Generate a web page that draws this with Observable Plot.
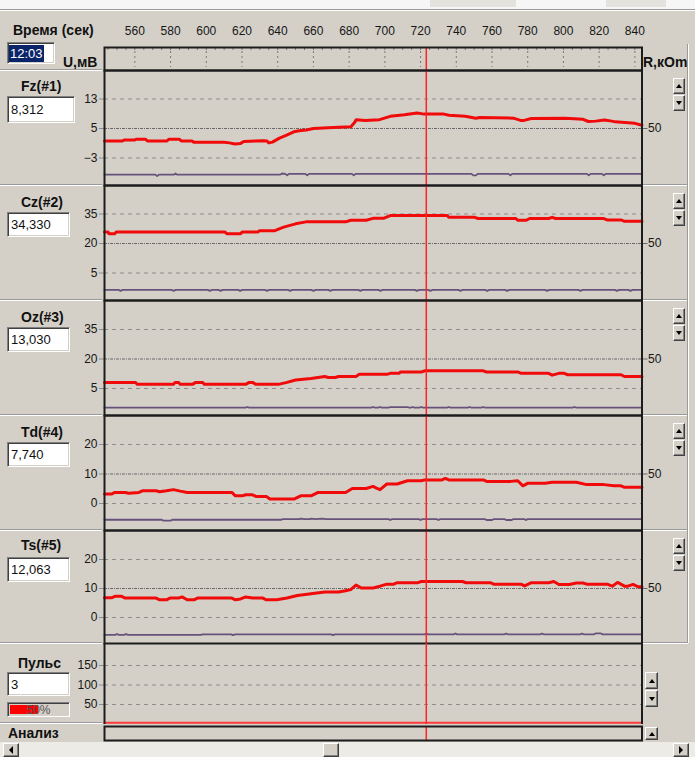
<!DOCTYPE html>
<html><head><meta charset="utf-8">
<script src="https://cdn.jsdelivr.net/npm/d3@7"></script>
<script src="https://cdn.jsdelivr.net/npm/@observablehq/plot@0.6"></script>
<style>
body{margin:0;background:#d4d0c8;}
#app{position:relative;width:695px;height:757px;background:#d4d0c8;overflow:hidden;font-family:"Liberation Sans",Arial,sans-serif;color:#111;}
.lbl{position:absolute;font-weight:bold;font-size:14px;white-space:nowrap;line-height:16px;}
.box{position:absolute;background:#fff;border:1px solid;border-color:#808080 #fff #fff #808080;box-shadow:inset 1px 1px #404040, inset -1px -1px #d4d0c8;font-size:13px;padding-left:3px;box-sizing:border-box;display:flex;align-items:center;}
.btn{position:absolute;background:#d4d0c8;border:1px solid;border-color:#fff #404040 #404040 #fff;box-shadow:inset -1px -1px #808080;box-sizing:border-box;}
.up::after,.down::after,.lt::after,.rt::after{content:"";position:absolute;left:50%;top:50%;width:0;height:0;}
.up::after{margin-left:-3px;margin-top:-2px;border-left:3px solid transparent;border-right:3px solid transparent;border-bottom:4px solid #000;}
.down::after{margin-left:-3px;margin-top:-2px;border-left:3px solid transparent;border-right:3px solid transparent;border-top:4px solid #000;}
.lt::after{margin-left:-2px;margin-top:-4px;border-top:4px solid transparent;border-bottom:4px solid transparent;border-right:4px solid #000;}
.rt::after{margin-left:-2px;margin-top:-4px;border-top:4px solid transparent;border-bottom:4px solid transparent;border-left:4px solid #000;}
.hl{position:absolute;height:1px;}
.pl{position:absolute;left:0;width:695px;}
</style>
</head><body>
<div id="app"></div>
<script>
// ---------------- data ----------------
const timeTicks = [560,580,600,620,640,660,680,700,720,740,760,780,800,820,840];
const xDomain = [543, 844];
const cursorT = 723.2;
const cursorTime = "12:03";
const timeLabel = "Время (сек)";
const uLabel = "U,мВ";
const rLabel = "R,кОm";
const rTickLabel = "50";
const channelNames = ["Fz(#1)","Cz(#2)","Oz(#3)","Td(#4)","Ts(#5)"];
const channelValues = ["8,312","34,330","13,030","7,740","12,063"];
const channelTicks = [[-3,5,13],[5,20,35],[5,20,35],[0,10,20],[0,10,20]];
const channelMid = [5,20,20,10,10];
const pulseName = "Пульс";
const pulseValue = "3";
const pulseTicks = [50,100,150];
const pulsePercent = 50;
const analysisLabel = "Анализ";

// U (red) series, [time s, mV]
const fzU = [[543,1.6],[553,1.6],[554,1.9],[560,1.9],[561,2.1],[566,2.1],[567,1.6],[578,1.6],[579,2.1],[585,2.1],[586,1.6],[592,1.6],[593,1.3],[610,1.3],[613,1.1],[616,0.8],[619,0.9],[621,1.5],[632,1.7],[634,1.6],[635,1.1],[637,1.3],[641,2.4],[645,3.2],[649,4.1],[652,4.4],[656,4.6],[660,5.0],[671,5.3],[681,5.5],[683,6.6],[684,7.4],[689,7.2],[697,7.4],[703,8.3],[711,8.7],[718,9.2],[722,8.9],[733,8.9],[736,8.6],[745,8.3],[751,7.8],[753,8.0],[772,7.8],[776,7.2],[778,7.2],[782,7.7],[801,7.8],[811,7.5],[814,6.9],[818,7.0],[823,7.3],[827,7.0],[829,6.8],[840,6.4],[844,5.9]];
const czU = [[543,25.8],[545,25.8],[545.5,25.0],[548.8,25.0],[549.5,25.8],[610.5,25.8],[611.5,25.0],[619.2,25.0],[620.1,25.8],[628.8,25.8],[629.8,26.5],[638.4,26.5],[643.3,28.3],[650,30],[655.8,31],[678,31],[680.9,31.8],[689.5,31.8],[693.4,32.8],[699.2,32.8],[703,34.2],[734.9,34.2],[735.8,33.3],[750.3,33.3],[752.2,32.7],[773.4,32.7],[774.4,31.8],[779.2,31.8],[781.1,32.7],[791.7,32.7],[793.7,33.3],[795.6,32.7],[822.6,32.7],[824.5,32],[832.2,32],[834.2,31.3],[844,31.3]];
const ozU = [[543,8.1],[560.4,8.1],[561.3,7.1],[581.6,7.1],[582.5,8.1],[584.5,8.1],[585.4,7.1],[592.2,7.1],[594.1,8.1],[598,8.1],[598.9,7.1],[622.1,7.1],[624,8.1],[625.9,8.1],[627.8,7.1],[640.4,7.1],[645.2,8.1],[650,9.3],[658.7,10.1],[666.4,11.1],[668.3,10.6],[672.2,10.6],[674.1,11.1],[683.8,11.1],[685.7,12.2],[701.1,12.2],[703,12.7],[707.9,12.7],[708.8,13.4],[720.4,13.4],[722.3,14],[755.1,14],[757,13.4],[774.4,13.4],[776.3,12.7],[791.7,12.7],[793.7,11.8],[797.5,12.7],[800.4,12.7],[802.4,12],[832.2,12],[834.2,11.1],[844,11.1]];
const tdU = [[543,3.2],[546.9,3.2],[548.8,3.75],[554.6,3.75],[556.5,3.5],[562.3,3.75],[564.2,4.3],[571.9,4.3],[573.9,4.0],[577.7,4.3],[581.6,4.7],[585.4,4.2],[589.3,3.75],[614.3,3.75],[616.3,2.6],[620.1,2.6],[622.1,2.95],[625.9,2.95],[627.8,2.4],[633.6,2.4],[635.6,1.5],[649.1,1.5],[652.9,2.6],[658.7,2.6],[662.6,3.75],[678,3.75],[681.8,5.1],[689.5,5.1],[693.4,5.8],[695.3,5.2],[697.3,4.7],[701.1,6.6],[706.9,6.6],[712.7,7.7],[720.4,7.7],[722.3,8.0],[732,8.0],[733.9,8.5],[735.8,8.0],[755.1,8.0],[757,7.5],[770.5,7.5],[774.4,7.7],[777.3,6.0],[780.2,6.9],[789.8,6.9],[793.7,7.2],[807.2,7.2],[813,6.4],[822.6,6.4],[828.4,6.0],[832.2,6.0],[834.2,5.5],[844,5.5]];
const tsU = [[543,6.8],[546.9,6.8],[548.8,7.3],[552.6,7.3],[554.6,6.7],[571.9,6.7],[573.9,6.1],[577.7,6.1],[579.6,6.7],[584.5,6.7],[586.4,7.1],[589.3,6.1],[593.1,6.1],[595.1,6.7],[614.3,6.7],[616.3,6.1],[619.2,6.4],[622.1,7.1],[625.9,6.7],[631.7,6.7],[633.6,6.1],[639.4,6.1],[645.2,6.7],[651,7.6],[658.7,8.2],[666.4,8.8],[674.1,8.8],[678,9.2],[680.9,9.6],[683.8,11.2],[686.7,10.2],[693.4,10.2],[697.3,10.8],[701.1,11.5],[705,11.5],[706.9,12],[718.5,12],[720.4,12.4],[743.5,12.4],[745.5,12],[759,12],[760.9,11.5],[776.3,11.5],[778.2,10.9],[782.1,12],[791.7,12],[794.6,12.4],[797.5,11.4],[803.3,11.4],[807.2,11.9],[811,11.9],[813,11.5],[824.5,11.5],[827.4,10.8],[830.3,12.1],[834.2,10.8],[836.1,10.8],[839,11.4],[841.9,10.6],[844,10.6]];

// R (purple) series, drawn in the panel's U units
const fzR = [[543,-7.5],[571.5,-7.5],[572.5,-7.9],[573.5,-7.5],[582,-7.5],[582.8,-7.2],[583.6,-7.5],[641.5,-7.5],[642.5,-7.2],[644.3,-7.3],[645.3,-7.7],[646.3,-7.3],[655.5,-7.3],[656.5,-7.7],[657.5,-7.3],[681.6,-7.3],[682.6,-7.7],[683.6,-7.3],[748.5,-7.3],[749.5,-7.7],[751,-7.7],[752,-7.3],[769.3,-7.3],[770.3,-7.7],[771.3,-7.3],[813.2,-7.3],[814.2,-7.7],[815.2,-7.3],[821.6,-7.3],[822.6,-7.7],[823.6,-7.3],[844,-7.3]];
const czR = [[543,-3.6],[550.8,-3.6],[552,-4.1],[553.2,-3.6],[580.5,-3.6],[581.7,-4.1],[582.9,-3.6],[600.8,-3.6],[602,-4.1],[603.2,-3.6],[606.8,-3.6],[608,-4.1],[609.2,-3.6],[617.8,-3.6],[619,-4.1],[620.2,-3.6],[632.8,-3.6],[634,-4.1],[635.2,-3.6],[645.8,-3.6],[647,-4.1],[648.2,-3.6],[658.8,-3.6],[660,-4.1],[661.2,-3.6],[668.3,-3.6],[669.5,-4.1],[670.7,-3.6],[685.1,-3.6],[686.3,-4.1],[687.5,-3.6],[696.3,-3.6],[697.5,-4.1],[698.7,-3.6],[716.8,-3.6],[718,-4.1],[719.2,-3.6],[724.3,-3.6],[725.5,-4.1],[726.7,-3.6],[741.1,-3.6],[742.3,-4.1],[743.5,-3.6],[756.1,-3.6],[757.3,-4.1],[758.5,-3.6],[767.3,-3.6],[768.5,-4.1],[769.7,-3.6],[789.7,-3.6],[790.9,-4.1],[792.1,-3.6],[808.3,-3.6],[809.5,-4.1],[810.7,-3.6],[828.8,-3.6],[830,-4.1],[831.2,-3.6],[836.3,-3.6],[837.5,-4.1],[838.7,-3.6],[844,-3.6]];
const ozR = [[543,-4.7],[622,-4.7],[623,-4.4],[624,-4.7],[692.4,-4.7],[693.4,-4.4],[694.4,-4.7],[696.3,-4.7],[697.3,-4.4],[698.3,-4.7],[702,-4.7],[703,-4.45],[712.7,-4.45],[713.7,-4.7],[714.6,-4.7],[715.6,-4.4],[716.6,-4.7],[719.4,-4.7],[720.4,-4.4],[721.4,-4.7],[734.8,-4.7],[735.8,-4.4],[736.8,-4.7],[746.4,-4.7],[747.4,-4.4],[748.4,-4.7],[754.1,-4.7],[755.1,-4.4],[756.1,-4.7],[805.2,-4.7],[806.2,-4.4],[807.2,-4.7],[844,-4.7]];
const tdR = [[543,-5.5],[575,-5.5],[576,-5.8],[580,-5.8],[581,-5.5],[642,-5.5],[643,-5.3],[652,-5.3],[653,-5.1],[655,-5.3],[658,-5.3],[659,-5.1],[661,-5.3],[665,-5.1],[667,-5.3],[702,-5.3],[703,-5.6],[704,-5.3],[719,-5.3],[720,-5.6],[721,-5.3],[729,-5.3],[730,-5.6],[731,-5.3],[756,-5.3],[757,-5.6],[760,-5.6],[761,-5.3],[767,-5.3],[768,-5.6],[771,-5.6],[772,-5.3],[778,-5.3],[779,-5.6],[780,-5.3],[844,-5.3]];
const tsR = [[543,-6.0],[549,-6.0],[550,-5.7],[551,-6.0],[554,-6.0],[555,-5.7],[556,-6.0],[597,-6.0],[598,-5.8],[614,-5.8],[615,-6.1],[616,-5.8],[670,-5.8],[671,-6.1],[672,-5.8],[722.3,-5.8],[723.3,-5.5],[724.3,-5.8],[738.5,-5.8],[739.5,-5.5],[740.5,-5.8],[766.9,-5.8],[767.9,-5.5],[768.9,-5.8],[787,-5.8],[788,-5.5],[789,-5.8],[809.4,-5.8],[810.4,-5.5],[811.4,-5.8],[817,-5.8],[818,-5.5],[821,-5.5],[822,-5.8],[844,-5.8]];
const pulse = [[543,3],[844,3]];

const uSeries = [fzU, czU, ozU, tdU, tsU];
const rSeries = [fzR, czR, ozR, tdR, tsR];

// ---------------- layout ----------------
const W = 695, L = 104, R = 641.5;
const app = document.getElementById("app");
const RED = "#f00a0a", PURPLE = "#66527a", CUR = "#ff2424", FRAME = "#1c1c1c";
const baseStyle = {background: "transparent", overflow: "visible", fontFamily: "'Liberation Sans', Arial, sans-serif", fontSize: "12px", color: "#161616"};

function place(node, top) {
  const d = document.createElement("div");
  d.className = "pl";
  d.style.top = top + "px";
  d.appendChild(node);
  app.appendChild(d);
}
function el(cls, x, y, w, h, html, extra) {
  const d = document.createElement("div");
  d.className = cls;
  d.style.left = x + "px"; d.style.top = y + "px";
  if (w != null) d.style.width = w + "px";
  if (h != null) d.style.height = h + "px";
  if (html != null) d.innerHTML = html;
  if (extra) Object.assign(d.style, extra);
  app.appendChild(d);
  return d;
}

// top strip
el("", 0, 0, 695, 9, null, {position: "absolute", background: "#f6f6f6"});
el("", 430, 0, 86, 7, null, {position: "absolute", background: "#e4e2dd"});
el("", 606, 0, 60, 7, null, {position: "absolute", background: "#e4e2dd"});
el("hl", 0, 9, 695, 1, null, {background: "#9a9a9a"});
el("hl", 0, 10, 695, 1, null, {background: "#ffffff"});

// header with time axis
place(Plot.plot({
  width: W, height: 70, marginLeft: L, marginRight: W - R, marginTop: 47, marginBottom: 0,
  x: {domain: xDomain},
  style: baseStyle,
  marks: [
    Plot.ruleX(d3.range(545, 845, 5), {stroke: "#777", insetBottom: 20}),
    Plot.ruleX(timeTicks, {stroke: "#777", strokeDasharray: "2,3", insetTop: 4, insetBottom: 3}),
    Plot.axisX(timeTicks, {anchor: "top", tickSize: 0, tickPadding: 13, label: null, fontSize: 12}),
    Plot.ruleX([cursorT], {stroke: CUR, strokeWidth: 1.5}),
    Plot.frame({stroke: FRAME, strokeWidth: 2})
  ]
}), 0);

// channel panels
const tops = [70, 185, 300, 415, 530];
const heights = [115, 115, 115, 115, 113];
const insets = [[28.5, 27.5], [28.5, 27.5], [29, 27], [29, 27], [29, 26]];
channelNames.forEach((name, i) => {
  const ticks = channelTicks[i], mid = channelMid[i];
  place(Plot.plot({
    width: W, height: heights[i], marginLeft: L, marginRight: W - R, marginTop: 0, marginBottom: 0,
    x: {domain: xDomain, axis: null},
    y: {domain: d3.extent(ticks), insetTop: insets[i][0], insetBottom: insets[i][1]},
    style: baseStyle,
    marks: [
      Plot.ruleY(ticks.filter(t => t !== mid), {stroke: "#8c8c8c", strokeDasharray: "4,4"}),
      Plot.ruleY([mid], {stroke: "#6a6a6a", strokeDasharray: "3,1,1,1"}),
      Plot.axisY(ticks, {anchor: "left", tickSize: 5, tickPadding: 2, stroke: "#8c8c8c", label: null, fontSize: 12}),
      Plot.axisY([mid], {anchor: "right", tickSize: 5, tickPadding: 1, stroke: "#6a6a6a", tickFormat: () => rTickLabel, label: null, fontSize: 12}),
      Plot.line(rSeries[i], {x: d => d[0], y: d => d[1], stroke: PURPLE, strokeWidth: 1.8}),
      Plot.line(uSeries[i], {x: d => d[0], y: d => d[1], stroke: RED, strokeWidth: 3}),
      Plot.ruleX([cursorT], {stroke: CUR, strokeWidth: 1.5}),
      Plot.frame({stroke: FRAME, strokeWidth: 2})
    ]
  }), tops[i]);
});

// pulse panel
place(Plot.plot({
  width: W, height: 81, marginLeft: L, marginRight: W - R, marginTop: 0, marginBottom: 0,
  x: {domain: xDomain, axis: null},
  y: {domain: d3.extent(pulseTicks), insetTop: 22, insetBottom: 20},
  style: baseStyle,
  marks: [
    Plot.ruleY(pulseTicks, {stroke: "#8c8c8c", strokeDasharray: "4,4"}),
    Plot.axisY(pulseTicks, {anchor: "left", tickSize: 5, tickPadding: 2, stroke: "#8c8c8c", label: null, fontSize: 12}),
    Plot.line(pulse, {x: d => d[0], y: d => d[1], stroke: "#ff3a3a", strokeWidth: 2}),
    Plot.ruleX([cursorT], {stroke: CUR, strokeWidth: 1.5}),
    Plot.ruleX(xDomain, {stroke: FRAME, strokeWidth: 2})
  ]
}), 643);

// analysis strip
place(Plot.plot({
  width: W, height: 14, marginLeft: L, marginRight: W - R, marginTop: 0, marginBottom: 0,
  x: {domain: xDomain, axis: null},
  style: baseStyle,
  marks: [
    Plot.ruleX([cursorT], {stroke: CUR, strokeWidth: 1.5}),
    Plot.frame({stroke: FRAME, strokeWidth: 2})
  ]
}), 726);

// ---------------- side widgets ----------------
el("lbl", 13, 22, null, null, timeLabel);
const tb = el("box", 7, 42, 48, 22, null);
tb.innerHTML = '<span style="background:#0a246a;color:#fff;padding:1px 1px;margin-left:-2px">' + cursorTime + '</span>';
el("lbl", 63, 54, null, null, uLabel);
el("lbl", 643, 54, null, null, rLabel);

// separators (left and right columns)
[70, 185, 300, 415, 530, 643, 723].forEach(y => {
  el("hl", 0, y - 1, 102, 1, null, {background: "#9a9a9a"});
  el("hl", 0, y, 102, 1, null, {background: "#ffffff"});
  if (y > 70 && y < 723) {
    el("hl", 643, y - 1, 45, 1, null, {background: "#9a9a9a"});
    el("hl", 643, y, 45, 1, null, {background: "#ffffff"});
  }
});
el("", 687, 44, 1, 599, null, {position: "absolute", background: "#9a9a9a"});
el("", 688, 44, 1, 599, null, {position: "absolute", background: "#ffffff"});

const labelY = [78, 194, 309, 424, 537];
const boxW = [68, 63, 63, 63, 63];
channelNames.forEach((name, i) => {
  el("lbl", 21, labelY[i], null, null, name);
  el("box", 7, tops[i] + (i === 0 ? 26 : 27), boxW[i], i === 0 ? 27 : 25, channelValues[i]);
  el("btn up", 673, tops[i] + 8, 12, 16, null);
  el("btn down", 673, tops[i] + 25, 12, 16, null);
});

el("lbl", 18, 655, null, null, pulseName);
el("box", 7, 672, 63, 24, pulseValue);
const pb = el("box", 7, 702, 63, 15, null, {padding: "0", justifyContent: "center", background: "#d4d0c8", fontSize: "12px"});
pb.innerHTML = '<div style="position:absolute;left:2px;top:2px;bottom:2px;width:' + (pulsePercent * 0.56) + 'px;background:#ff0000"></div><span style="position:relative;color:#555">' + pulsePercent + '%</span>';
el("btn up", 645, 672, 13, 17, null);
el("btn down", 645, 690, 13, 17, null);

el("lbl", 8, 725, null, null, analysisLabel);
el("btn up", 645, 727, 13, 13, null);

// bottom scrollbar
el("", 0, 742, 695, 15, null, {position: "absolute", background: "#ecebe6"});
el("btn lt", 3, 743, 16, 14, null);
el("btn", 323, 743, 16, 14, null);
el("btn rt", 673, 743, 16, 14, null);
</script>
</body></html>
